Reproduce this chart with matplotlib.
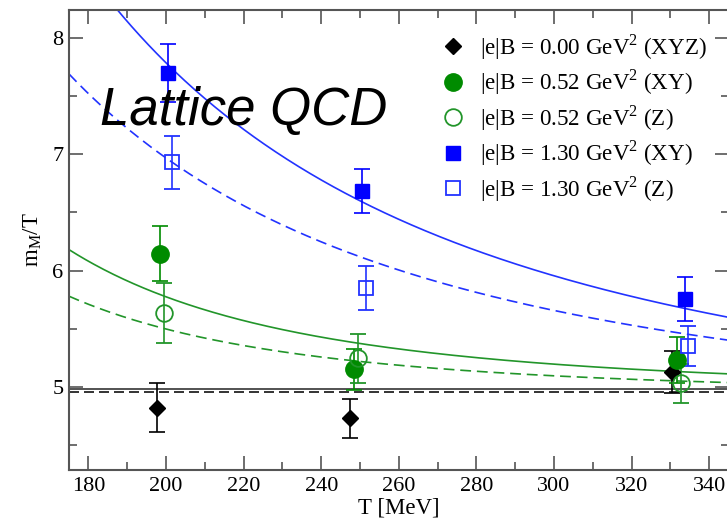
import numpy as np
import matplotlib
matplotlib.use("Agg")
import matplotlib.pyplot as plt
from matplotlib.lines import Line2D
from matplotlib.ticker import MultipleLocator

plt.rcParams['font.family'] = ['Liberation Serif', 'DejaVu Serif']
plt.rcParams['mathtext.fontset'] = 'custom'
plt.rcParams['mathtext.rm'] = 'Liberation Serif'

# ---- data ----
T_b0 = [197.6, 247.4, 330.4]
m_b0 = [4.82, 4.73, 5.13]
e_b0 = [0.21, 0.17, 0.18]

T_g_xy = [198.5, 248.5, 331.7]
m_g_xy = [6.145, 5.15, 5.23]
e_g_xy = [0.235, 0.18, 0.20]

T_g_z = [199.5, 249.5, 332.7]
m_g_z = [5.635, 5.245, 5.03]
e_g_z = [0.26, 0.21, 0.17]

T_b_xy = [200.5, 250.5, 333.8]
m_b_xy = [7.70, 6.685, 5.756]
e_b_xy = [0.25, 0.19, 0.185]

T_b_z = [201.5, 251.5, 334.6]
m_b_z = [6.93, 5.85, 5.35]
e_b_z = [0.23, 0.19, 0.17]

# fit curves: m/T = c + k*(200/T)^n
fit_c = [4.491, 4.609, 4.952, 4.926]
fit_k = [3.295, 2.359, 0.8228, 0.572]
fit_n = [2, 2, 3, 3]
b0_solid = 4.985
b0_dashed = 4.955

labels = [r'|e|B = 0.00 GeV$^{\mathregular{2}}$ (XYZ)',
          r'|e|B = 0.52 GeV$^{\mathregular{2}}$ (XY)',
          r'|e|B = 0.52 GeV$^{\mathregular{2}}$ (Z)',
          r'|e|B = 1.30 GeV$^{\mathregular{2}}$ (XY)',
          r'|e|B = 1.30 GeV$^{\mathregular{2}}$ (Z)']

xticks = [180, 200, 220, 240, 260, 280, 300, 320, 340]
yticks = [5, 6, 7, 8]

BLUE = '#0000ff'
BLUE_L = '#2233ff'
GREEN = '#008b00'
GREEN_L = '#22952a'

fig = plt.figure(figsize=(7.27, 5.21), dpi=100)
ax = fig.add_axes([69/727, 1-470/521, 659.6/727, 460/521])
ax.set_xlim(175, 345)
ax.set_ylim(4.286, 8.24)

Tg = np.linspace(175, 345, 400)
styles = [(BLUE_L, '-'), (BLUE_L, (0, (6.5, 3.5))), (GREEN_L, '-'), (GREEN_L, (0, (6.5, 3.5)))]
for c, k, n, (col, ls) in zip(fit_c, fit_k, fit_n, styles):
    ax.plot(Tg, c + k*(200.0/Tg)**n, color=col, ls=ls, lw=1.2, zorder=2)
ax.axhline(b0_solid, color='#444444', lw=1.3, zorder=2)
ax.axhline(b0_dashed, color='#111111', lw=1.2, ls=(0, (6, 3)), zorder=2)

eb = dict(capsize=6, elinewidth=1.2, capthick=1.2, ls='none', zorder=3)
ax.errorbar(T_b0, m_b0, yerr=e_b0, fmt='D', ms=8, color='black', mfc='black', mec='black', **eb)
ax.errorbar(T_g_xy, m_g_xy, yerr=e_g_xy, fmt='o', ms=12.5, color=GREEN, mfc=GREEN, mec=GREEN, **eb)
ax.errorbar(T_g_z, m_g_z, yerr=e_g_z, fmt='o', ms=12, color=GREEN_L, mfc='none', mec=GREEN_L, mew=1.3, **eb)
ax.errorbar(T_b_xy, m_b_xy, yerr=e_b_xy, fmt='s', ms=10, color=BLUE, mfc=BLUE, mec=BLUE, **eb)
ax.errorbar(T_b_z, m_b_z, yerr=e_b_z, fmt='s', ms=10, color=BLUE_L, mfc='none', mec=BLUE_L, mew=1.3, **eb)

ax.set_xticks(xticks)
ax.set_yticks(yticks)
ax.xaxis.set_minor_locator(MultipleLocator(10))
ax.yaxis.set_minor_locator(MultipleLocator(0.5))
ax.tick_params(which='both', direction='in', top=True, right=True, color='#555555', width=1.2, labelsize=16)
ax.tick_params(which='major', length=10)
ax.tick_params(which='minor', length=5.5)
ax.tick_params(axis='x', pad=5)
ax.tick_params(axis='y', pad=4)
for s in ax.spines.values():
    s.set_color('#555555')
    s.set_linewidth(1.5)

ax.set_xlabel('T [MeV]', fontsize=16.5, labelpad=1)
ax.set_ylabel(r'm$_{\mathregular{M}}$/T', fontsize=16.5, labelpad=6)

handles = [Line2D([], [], ls='none', marker='D', ms=8, color='black'),
           Line2D([], [], ls='none', marker='o', ms=12.5, color=GREEN),
           Line2D([], [], ls='none', marker='o', ms=12, mfc='none', mec=GREEN_L, mew=1.3),
           Line2D([], [], ls='none', marker='s', ms=10, color=BLUE),
           Line2D([], [], ls='none', marker='s', ms=10, mfc='none', mec=BLUE_L, mew=1.3)]
ax.legend(handles, labels, loc='upper left', bbox_to_anchor=(441/727, 1-32/521),
          bbox_transform=fig.transFigure, frameon=False, fontsize=16.6,
          handlelength=1.0, handletextpad=0.7, labelspacing=0.26, borderpad=0, borderaxespad=0)

fig.text(100/727, 1-125/521, 'Lattice QCD', family=['Liberation Sans'], style='italic',
         fontsize=38, va='baseline', ha='left', color='black', zorder=1)

fig.savefig('out.png', dpi=100)
